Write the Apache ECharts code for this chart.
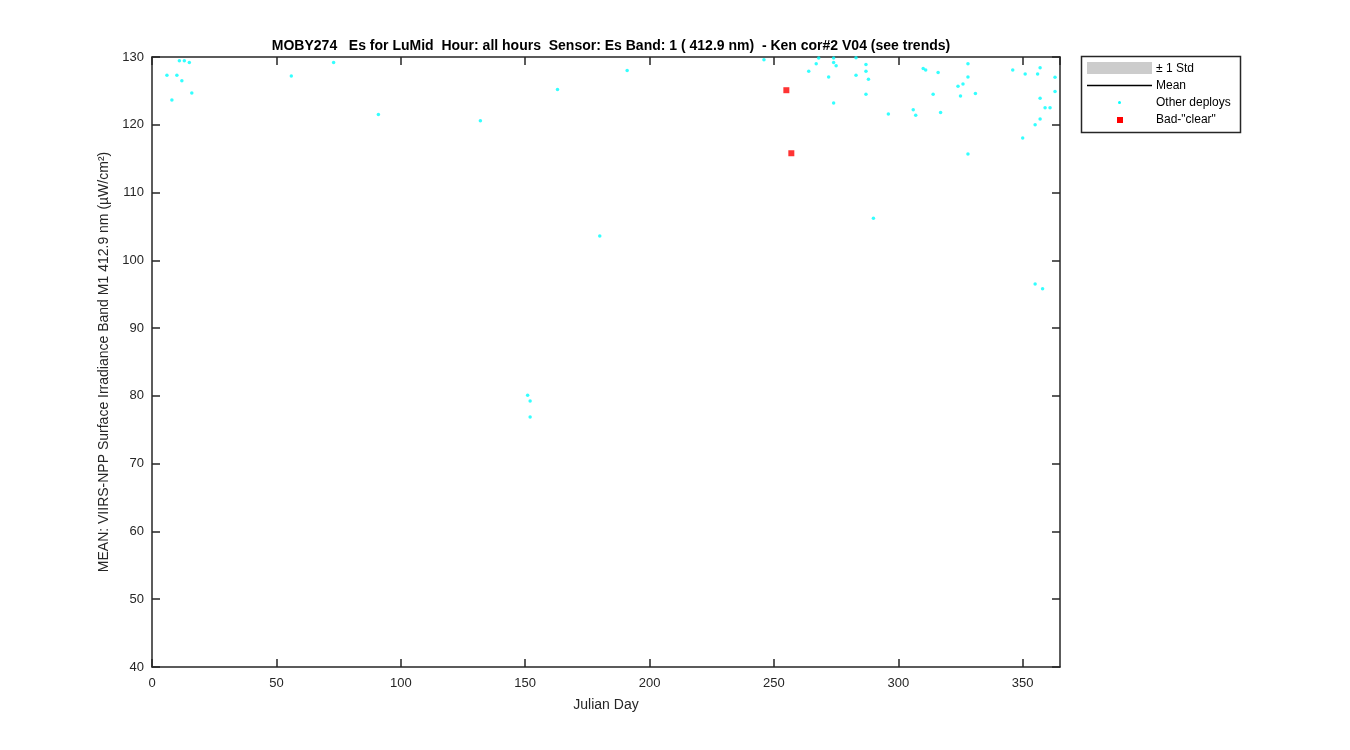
<!DOCTYPE html>
<html>
<head>
<meta charset="utf-8">
<script src="https://cdn.jsdelivr.net/npm/echarts@6/dist/echarts.min.js"></script>
<style>
html,body{margin:0;padding:0;background:#fff;}
#chart{width:1350px;height:750px;}
</style>
</head>
<body>
<div id="chart"></div>
<script>
// ---- data ----
const titleText = 'MOBY274   Es for LuMid  Hour: all hours  Sensor: Es Band: 1 ( 412.9 nm)  - Ken cor#2 V04 (see trends)';
const xLabel = 'Julian Day';
const yLabel = 'MEAN: VIIRS-NPP Surface Irradiance Band M1 412.9 nm (\u00B5W/cm\u00B2)';
const legendLabels = ['\u00B1 1 Std', 'Mean', 'Other deploys', 'Bad-"clear"'];

const otherDays = [11,13,15,6,10,12,16,8,56,73,91,132,163,191,180,151,152,152,246,268,274,283,267,274,275,264,287,287,283,272,288,287,274,296,306,307,290,310,311,316,328,328,326,324,314,325,331,317,328,346,351,356,357,363,363,357,359,361,357,355,350,355,358];
const otherVals = [129.45,129.45,129.2,127.3,127.3,126.5,124.7,123.65,127.2,129.2,121.5,120.6,125.2,128.0,103.6,80.1,79.25,76.9,129.6,129.85,129.85,129.9,129.0,129.2,128.7,127.9,128.9,127.9,127.3,127.05,126.7,124.5,123.2,121.6,122.2,121.4,106.2,128.3,128.1,127.7,129.0,127.05,126.0,125.7,124.5,124.25,124.6,121.8,115.7,128.1,127.5,127.5,128.4,127.0,124.9,123.9,122.5,122.5,120.85,120.0,118.05,96.5,95.8];
const badDays = [255, 257];
const badVals = [125.1, 115.8];

const xMin = 0, xMax = 365, xStep = 50;
const yMin = 40, yMax = 130, yStep = 10;

// ---- chart ----
const FONT = 'Liberation Sans, Arial, Helvetica, sans-serif';
const AX = '#262626';
const chart = echarts.init(document.getElementById('chart'), null, {renderer:'canvas'});

const pairs = (xs, ys) => xs.map((x, i) => [x, ys[i]]);

function xAx(pos, show){
  return {
    type:'value', position:pos, min:xMin, max:xMax, interval:xStep,
    name: show ? xLabel : '', nameLocation:'middle', nameGap:31,
    nameTextStyle:{fontFamily:FONT, fontSize:14, color:AX},
    axisLine:{show:true, onZero:false, lineStyle:{color:AX, width:1.5}},
    axisTick:{show:true, inside:true, length:8, lineStyle:{color:AX, width:1.5}},
    axisLabel:{show:show, showMaxLabel:false, fontFamily:FONT, fontSize:13, color:AX, margin:10},
    splitLine:{show:false}
  };
}
function yAx(pos, show){
  return {
    type:'value', position:pos, min:yMin, max:yMax, interval:yStep,
    name: show ? yLabel : '', nameLocation:'middle', nameGap:36,
    nameTextStyle:{fontFamily:FONT, fontSize:14, color:AX},
    axisLine:{show:true, onZero:false, lineStyle:{color:AX, width:1.5}},
    axisTick:{show:true, inside:true, length:8, lineStyle:{color:AX, width:1.5}},
    axisLabel:{show:show, fontFamily:FONT, fontSize:13, color:AX, margin:8},
    splitLine:{show:false}
  };
}

const LX = 1081, LY = 56;
const option = {
  backgroundColor:'#fff',
  animation:false,
  title:{
    text:titleText, left:606, top:34, textAlign:'center',
    textStyle:{fontFamily:FONT, fontSize:14, fontWeight:'bold', color:'#000'}
  },
  grid:{left:152, right:290, top:57, bottom:83, containLabel:false},
  xAxis:[xAx('bottom', true), xAx('top', false)],
  yAxis:[yAx('left', true), yAx('right', false)],
  series:[
    {
      name:legendLabels[2], type:'scatter', xAxisIndex:0, yAxisIndex:0,
      data:pairs(otherDays, otherVals), symbol:'circle', symbolSize:3.5,
      itemStyle:{color:'#00FFFF'}, silent:true
    },
    {
      name:legendLabels[3], type:'scatter', xAxisIndex:0, yAxisIndex:0,
      data:pairs(badDays, badVals), symbol:'rect', symbolSize:6,
      itemStyle:{color:'#FF0000'}, silent:true
    }
  ],
  graphic:[
    {type:'rect', shape:{x:LX+0.5, y:LY+0.5, width:159, height:76}, style:{fill:'#fff', stroke:AX, lineWidth:1.5}},
    {type:'rect', shape:{x:1087, y:62, width:65, height:12}, style:{fill:'#CCCCCC'}},
    {type:'text', x:1156, y:69, style:{text:legendLabels[0], fontFamily:FONT, fontSize:12, fill:'#000', verticalAlign:'middle'}},
    {type:'line', shape:{x1:1087, y1:85.5, x2:1152, y2:85.5}, style:{stroke:'#000', lineWidth:1.5}},
    {type:'text', x:1156, y:86, style:{text:legendLabels[1], fontFamily:FONT, fontSize:12, fill:'#000', verticalAlign:'middle'}},
    {type:'circle', shape:{cx:1119.5, cy:102.5, r:1.5}, style:{fill:'#00FFFF'}},
    {type:'text', x:1156, y:103, style:{text:legendLabels[2], fontFamily:FONT, fontSize:12, fill:'#000', verticalAlign:'middle'}},
    {type:'rect', shape:{x:1117, y:117, width:6, height:6}, style:{fill:'#FF0000'}},
    {type:'text', x:1156, y:120, style:{text:legendLabels[3], fontFamily:FONT, fontSize:12, fill:'#000', verticalAlign:'middle'}}
  ]
};
chart.setOption(option);
</script>
</body>
</html>
